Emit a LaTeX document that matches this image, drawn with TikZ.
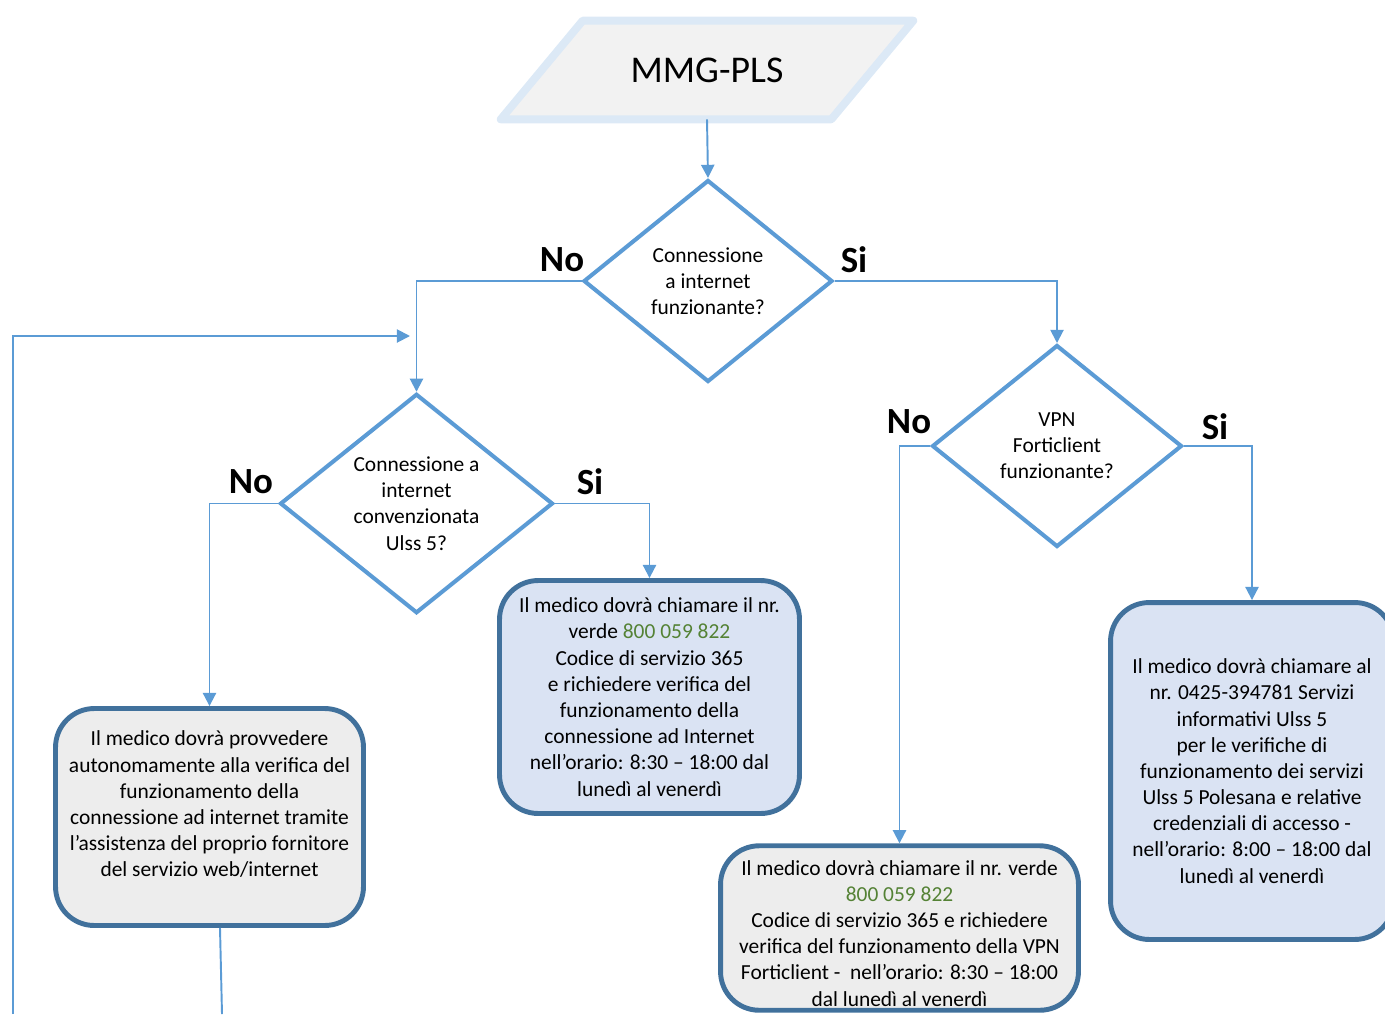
\documentclass[tikz,border=0pt]{standalone}
\usepackage{fontspec}
\setmainfont{Carlito}
\usetikzlibrary{arrows.meta,shapes.geometric,shadows,backgrounds}
\definecolor{linea}{RGB}{91,155,213}
\definecolor{bordo}{RGB}{65,113,156}
\definecolor{grigio}{RGB}{237,237,237}
\definecolor{azzurro}{RGB}{218,227,243}
\definecolor{cornice}{RGB}{220,233,246}
\definecolor{verde}{RGB}{84,130,53}
\tikzset{
  freccia/.style={draw=linea, line width=1.1pt, -{Triangle[width=7.5pt,length=7.5pt]}},
  rombo/.style={diamond, draw=linea, line width=2.3pt, fill=white, align=center, inner sep=0pt, font=\fontsize{12.2}{14.9}\selectfont},
  riquadro/.style={rectangle, rounded corners=22pt, draw=bordo, line width=2.8pt, align=center, inner sep=2pt, font=\fontsize{12.2}{14.9}\selectfont},
  etichetta/.style={font=\fontsize{21}{24}\selectfont\bfseries},
}
\begin{document}
\begin{tikzpicture}[x=0.02cm, y=-0.02cm]
        % 枠
        \path[use as bounding box] (0,0) rectangle (1385,1014);
        \clip (0,0) rectangle (1385,1014);

        % 開始
        \node[minimum width=8.24cm, minimum height=1.96cm, inner sep=0pt, font=\fontsize{21.5}{25}\selectfont] (mmg) at (707,70) {MMG-PLS};
        \begin{scope}[on background layer]
            \draw[draw=cornice, line width=4.5pt, line join=round, fill=black!5,
                  drop shadow={shadow xshift=0.6pt, shadow yshift=-1.8pt, opacity=0.45, fill=black!60}]
                ([xshift=1.64cm]mmg.north west) -- (mmg.north east) -- ([xshift=-1.64cm]mmg.south east) -- (mmg.south west) -- cycle;
        \end{scope}

        % 判断
        \node[rombo, minimum width=4.98cm, minimum height=4.04cm] (d1) at (708,281) {Connessione\\a internet\\funzionante?};
        \node[rombo, minimum width=5.46cm, minimum height=4.34cm] (d2) at (416.5,503.5) {Connessione a\\internet\\convenzionata\\Ulss 5?};
        \node[rombo, minimum width=5.0cm, minimum height=4.04cm] (d3) at (1057,446) {VPN\\Forticlient\\funzionante?};

        % 処理
        \node[riquadro, fill=grigio, minimum width=6.16cm, minimum height=4.34cm] (boxA) at (209.5,817)
            {Il medico dovrà provvedere\\autonomamente alla verifica del\\funzionamento della\\connessione ad internet tramite\\l’assistenza del proprio fornitore\\del servizio web/internet\\\mbox{}};
        \node[riquadro, fill=azzurro, minimum width=6.0cm, minimum height=4.66cm] (boxB) at (649.5,697)
            {Il medico dovrà chiamare il nr.\\verde {\color{verde}800 059 822}\\Codice di servizio 365\\e richiedere verifica del\\funzionamento della\\connessione ad Internet\\nell’orario: 8:30 – 18:00 dal\\lunedì al venerdì};
        \node[riquadro, fill=grigio, inner sep=0pt, minimum width=7.16cm, minimum height=3.29cm] (boxC) at (899.5,928)
            {\rule{0pt}{14.5pt}Il medico dovrà chiamare il nr. verde\\{\color{verde}800 059 822}\\Codice di servizio 365 e richiedere\\verifica del funzionamento della VPN\\Forticlient -\ \ nell’orario: 8:30 – 18:00\\dal lunedì al venerdì};
        \node[riquadro, fill=azzurro, minimum width=5.66cm, minimum height=6.74cm] (boxD) at (1252,771)
            {Il medico dovrà chiamare al\\nr. 0425-394781 Servizi\\informativi Ulss 5\\per le verifiche di\\funzionamento dei servizi\\Ulss 5 Polesana e relative\\credenziali di accesso -\\nell’orario: 8:00 – 18:00 dal\\lunedì al venerdì};

        % ラベル
        \foreach \name/\x/\y/\txt in {no1/562/260/No, si1/854/260/Si, no2/251/482/No, si2/590/482/Si, no3/909/422/No, si3/1215/427/Si}
            \node[etichetta] (\name) at (\x,\y) {\txt};

        % 矢印
        \draw[freccia] (mmg.south) -- (d1.north);
        \draw[freccia] (d1.west) -| (d2.north);
        \draw[freccia] (d1.east) -| (d3.north);
        \draw[freccia] (d2.west) -| (boxA.north);
        \draw[freccia] (d2.east) -| (boxB.north);
        \draw[freccia] (d3.west) -| (boxC.north);
        \draw[freccia] (d3.east) -| (boxD.north);

        % 戻り線
        \coordinate (ritornoA) at (13,1014);
        \coordinate (ritornoB) at (410,336);
        \coordinate (codaA) at (222,1014);
        \draw[freccia] (ritornoA) |- (ritornoB);
        \draw[draw=linea, line width=1.1pt] ([xshift=0.21cm]boxA.south) -- (codaA);
    \end{tikzpicture}
\end{document}
